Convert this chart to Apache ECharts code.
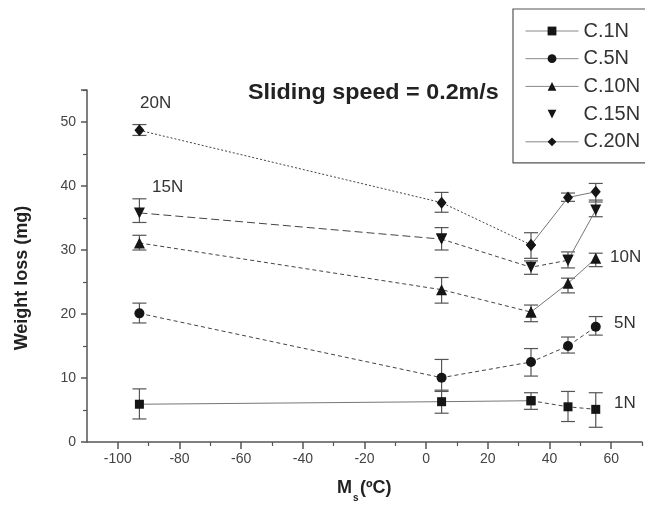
<!DOCTYPE html>
<html>
<head>
<meta charset="utf-8">
<script src="https://cdn.jsdelivr.net/npm/echarts@6/dist/echarts.min.js"></script>
<style>
  html, body { margin: 0; padding: 0; background: #fff; }
  #chart { width: 645px; height: 506px; }
</style>
</head>
<body>
<div id="chart"></div>
<script>
// Ms temperatures (x) and weight loss values per load
var msTemp = [-93, 5, 34, 46, 55];

var names = ['C.1N', 'C.5N', 'C.10N', 'C.15N', 'C.20N'];

var loss1N  = [5.9, 6.3, 6.45, 5.5, 5.1];
var loss5N  = [20.1, 10.05, 12.5, 15.0, 18.0];
var loss10N = [31.1, 23.8, 20.3, 24.8, 28.7];
var loss15N = [35.8, 31.7, 27.3, 28.4, 36.25];
var loss20N = [48.7, 37.4, 30.8, 38.2, 39.1];

// error bar limits
var low1N  = [3.6, 4.5, 5.1, 3.2, 2.3];
var high1N = [8.3, 8.1, 7.7, 7.9, 7.7];
var low5N  = [18.6, 7.9, 10.3, 13.9, 16.7];
var high5N = [21.7, 12.9, 14.6, 16.4, 19.6];
var low10N  = [30.0, 21.7, 18.8, 23.3, 27.4];
var high10N = [32.3, 25.7, 21.4, 25.6, 29.5];
var low15N  = [34.3, 30.0, 26.2, 27.2, 35.2];
var high15N = [38.0, 33.5, 28.3, 29.7, 37.8];
var low20N  = [47.9, 35.9, 28.7, 37.6, 37.5];
var high20N = [49.6, 39.0, 32.7, 38.9, 40.4];

var xMajorTicks = [-100, -80, -60, -40, -20, 0, 20, 40, 60];
var xMinorTicks = [-90, -70, -50, -30, -10, 10, 30, 50, 70];
var yMinorTicks = [5, 15, 25, 35, 45, 55];

var curveLabels = ['20N', '15N', '10N', '5N', '1N'];

var lossData = [loss1N, loss5N, loss10N, loss15N, loss20N];
var lowData = [low1N, low5N, low10N, low15N, low20N];
var highData = [high1N, high5N, high10N, high15N, high20N];

// marker look for each load
var symbols = [
  { symbol: 'rect', size: 9, rotate: 0 },
  { symbol: 'circle', size: 10, rotate: 0 },
  { symbol: 'triangle', size: 11, rotate: 0 },
  { symbol: 'triangle', size: 11, rotate: 180 },
  { symbol: 'diamond', size: [10, 12], rotate: 0 }
];

// line segments: [from index, to index, line type]
var dotted = [2, 2];
var dashed = [4, 3];
var segments = [
  [[0, 2, 'solid'], [2, 4, dashed]],
  [[0, 4, dashed]],
  [[0, 2, dashed], [2, 4, 'solid']],
  [[0, 1, [8, 4]], [1, 3, dashed], [3, 4, 'solid']],
  [[0, 2, dotted], [2, 4, 'solid']]
];

var font = 'Liberation Sans, Arial, sans-serif';

function pares(xs, ys, a, b) {
  var out = [];
  for (var i = a; i <= b; i++) out.push([xs[i], ys[i]]);
  return out;
}

function errorRender(params, api) {
  var x = api.value(0);
  var top = api.coord([x, api.value(2)]);
  var bot = api.coord([x, api.value(1)]);
  var hw = 7;
  var st = { stroke: '#555', lineWidth: 1.2 };
  return {
    type: 'group',
    children: [
      { type: 'line', shape: { x1: top[0], y1: top[1], x2: bot[0], y2: bot[1] }, style: st },
      { type: 'line', shape: { x1: top[0] - hw, y1: top[1], x2: top[0] + hw, y2: top[1] }, style: st },
      { type: 'line', shape: { x1: bot[0] - hw, y1: bot[1], x2: bot[0] + hw, y2: bot[1] }, style: st }
    ]
  };
}

var series = [];
for (var g = 0; g < names.length; g++) {
  var segs = segments[g];
  for (var s = 0; s < segs.length; s++) {
    var solid = segs[s][2] === 'solid';
    series.push({
      name: names[g],
      type: 'line',
      data: pares(msTemp, lossData[g], segs[s][0], segs[s][1]),
      symbol: symbols[g].symbol,
      symbolSize: symbols[g].size,
      symbolRotate: symbols[g].rotate,
      showAllSymbol: true,
      itemStyle: { color: '#151515' },
      lineStyle: { color: solid ? '#777' : '#444', width: 1, type: segs[s][2] },
      z: 3
    });
  }
}
for (var g2 = 0; g2 < names.length; g2++) {
  var errData = [];
  for (var i = 0; i < msTemp.length; i++) {
    errData.push([msTemp[i], lowData[g2][i], highData[g2][i]]);
  }
  series.push({
    name: 'err' + g2,
    type: 'custom',
    renderItem: errorRender,
    data: errData,
    encode: { x: 0, y: [1, 2] },
    z: 2
  });
}

var legendData = names.map(function (n) {
  if (n === 'C.15N') return { name: n, lineStyle: { opacity: 0 } };
  return { name: n };
});

var myChart = echarts.init(document.getElementById('chart'), null, { renderer: 'canvas' });
myChart.setOption({
  animation: false,
  backgroundColor: '#fff',
  grid: { left: 87, right: 3, top: 90, bottom: 64, containLabel: false },
  legend: {
    orient: 'vertical',
    left: 513,
    top: 9,
    padding: [12, 20, 11, 12],
    itemWidth: 53,
    itemHeight: 11,
    itemGap: 7.7,
    backgroundColor: '#fff',
    borderColor: '#555',
    borderWidth: 1.2,
    borderRadius: 0,
    data: legendData,
    lineStyle: { color: '#888', width: 1, type: 'solid' },
    textStyle: { fontFamily: font, fontSize: 20, color: '#333', lineHeight: 20 }
  },
  xAxis: [{
    type: 'value',
    min: -110,
    max: 70,
    splitLine: { show: false },
    axisLine: { onZero: false, lineStyle: { color: '#555', width: 1.5 } },
    axisTick: { show: true, length: 7, customValues: xMajorTicks, lineStyle: { color: '#555', width: 1.5 } },
    axisLabel: { customValues: xMajorTicks, color: '#444', fontFamily: font, fontSize: 14, margin: 10 }
  }, {
    type: 'value',
    min: -110,
    max: 70,
    position: 'bottom',
    splitLine: { show: false },
    axisLine: { show: false, onZero: false },
    axisTick: { show: true, length: 4, customValues: xMinorTicks, lineStyle: { color: '#555', width: 1.2 } },
    axisLabel: { show: false }
  }],
  yAxis: [{
    type: 'value',
    min: 0,
    max: 55,
    interval: 10,
    splitLine: { show: false },
    axisLine: { onZero: false, lineStyle: { color: '#555', width: 1.5 } },
    axisTick: { show: true, length: 6, lineStyle: { color: '#555', width: 1.5 } },
    axisLabel: {
      color: '#444', fontFamily: font, fontSize: 14, margin: 11,
      formatter: function (v) { return v > 50 ? '' : v; }
    }
  }, {
    type: 'value',
    min: 0,
    max: 55,
    position: 'left',
    splitLine: { show: false },
    axisLine: { show: false, onZero: false },
    axisTick: { show: true, length: 4, customValues: yMinorTicks, lineStyle: { color: '#555', width: 1.2 } },
    axisLabel: { show: false }
  }],
  graphic: [
    { type: 'text', left: 248, top: 82, scaleX: 1.06, style: { text: 'Sliding speed = 0.2m/s', font: 'bold 22px ' + font, fill: '#222' } },
    { type: 'text', x: 22, y: 278, rotation: Math.PI / 2, style: { text: 'Weight loss (mg)', font: 'bold 18px ' + font, fill: '#222', align: 'center', verticalAlign: 'middle' } },
    { type: 'text', left: 337, top: 479, style: { text: 'M', font: 'bold 18px ' + font, fill: '#222' } },
    { type: 'text', left: 353, top: 493, style: { text: 's', font: 'bold 10px ' + font, fill: '#222' } },
    { type: 'text', left: 360, top: 479, style: { text: '(ºC)', font: 'bold 18px ' + font, fill: '#222' } },
    { type: 'text', left: 140, top: 95, style: { text: curveLabels[0], font: '17px ' + font, fill: '#333' } },
    { type: 'text', left: 152, top: 179, style: { text: curveLabels[1], font: '17px ' + font, fill: '#333' } },
    { type: 'text', left: 610, top: 249, style: { text: curveLabels[2], font: '17px ' + font, fill: '#333' } },
    { type: 'text', left: 614, top: 315, style: { text: curveLabels[3], font: '17px ' + font, fill: '#333' } },
    { type: 'text', left: 614, top: 395, style: { text: curveLabels[4], font: '17px ' + font, fill: '#333' } }
  ],
  series: series
});
</script>
</body>
</html>
